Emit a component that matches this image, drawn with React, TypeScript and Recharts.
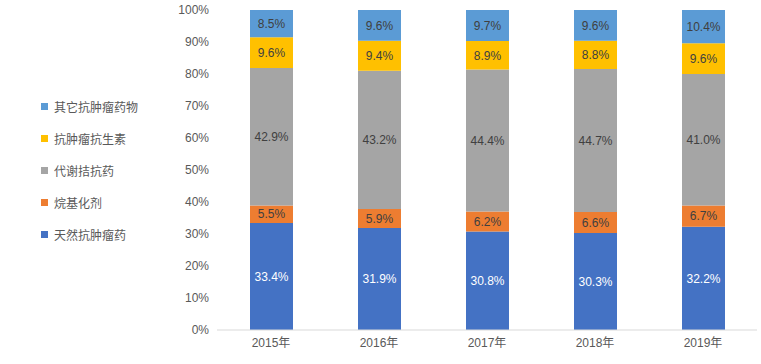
import { Bar, BarChart, LabelList, XAxis, YAxis } from "recharts";

const years = ["2015年", "2016年", "2017年", "2018年", "2019年"];
const natural = [33.4, 31.9, 30.8, 30.3, 32.2];
const alkylating = [5.5, 5.9, 6.2, 6.6, 6.7];
const antimetabolite = [42.9, 43.2, 44.4, 44.7, 41.0];
const antibiotic = [9.6, 9.4, 8.9, 8.8, 9.6];
const others = [8.5, 9.6, 9.7, 9.6, 10.4];
const yTicks = [0, 0.1, 0.2, 0.3, 0.4, 0.5, 0.6, 0.7, 0.8, 0.9, 1];

const series = [
  { key: "natural", name: "天然抗肿瘤药", color: "#4472C4", label: "#FFFFFF", values: natural },
  { key: "alkylating", name: "烷基化剂", color: "#ED7D31", label: "#404040", values: alkylating },
  { key: "antimetabolite", name: "代谢拮抗药", color: "#A5A5A5", label: "#404040", values: antimetabolite },
  { key: "antibiotic", name: "抗肿瘤抗生素", color: "#FFC000", label: "#404040", values: antibiotic },
  { key: "others", name: "其它抗肿瘤药物", color: "#5B9BD5", label: "#404040", values: others },
];

const data = years.map((year, i) => {
  const row: Record<string, string | number> = { year };
  series.forEach((s) => {
    row[s.key] = s.values[i];
  });
  return row;
});

const font = '"Liberation Sans", "Noto Sans CJK SC", sans-serif';

function SideLegend() {
  return (
    <div style={{ position: "absolute", left: 41, top: 90, fontFamily: font, fontSize: 12, color: "#595959" }}>
      {[...series].reverse().map((s) => (
        <div key={s.key} style={{ display: "flex", alignItems: "center", height: 32 }}>
          <span style={{ width: 7, height: 7, background: s.color, marginRight: 6, display: "inline-block" }} />
          {s.name}
        </div>
      ))}
    </div>
  );
}

export default function App() {
  return (
    <div style={{ position: "absolute", left: 0, top: 0, width: 761, height: 364, background: "#fff" }}>
      <BarChart
        width={761}
        height={364}
        data={data}
        stackOffset="expand"
        margin={{ top: 10, right: 4, bottom: 4, left: 167 }}
      >
        <XAxis
          dataKey="year"
          axisLine={{ stroke: "#D9D9D9" }}
          tickLine={false}
          height={30}
          tick={{ fill: "#595959", fontSize: 12, fontFamily: font }}
        />
        <YAxis
          ticks={yTicks}
          domain={[0, 1]}
          width={50}
          axisLine={false}
          tickLine={false}
          tickFormatter={(v: number) => `${Math.round(v * 100)}%`}
          tick={{ fill: "#595959", fontSize: 12, fontFamily: font }}
        />
        {series.map((s) => (
          <Bar key={s.key} dataKey={s.key} name={s.name} stackId="a" fill={s.color} barSize={43} isAnimationActive={false}>
            <LabelList
              dataKey={s.key}
              position="center"
              formatter={(v: number) => `${Number(v).toFixed(1)}%`}
              style={{ fill: s.label, fontSize: 12, fontFamily: font }}
            />
          </Bar>
        ))}
      </BarChart>
      <SideLegend />
    </div>
  );
}
